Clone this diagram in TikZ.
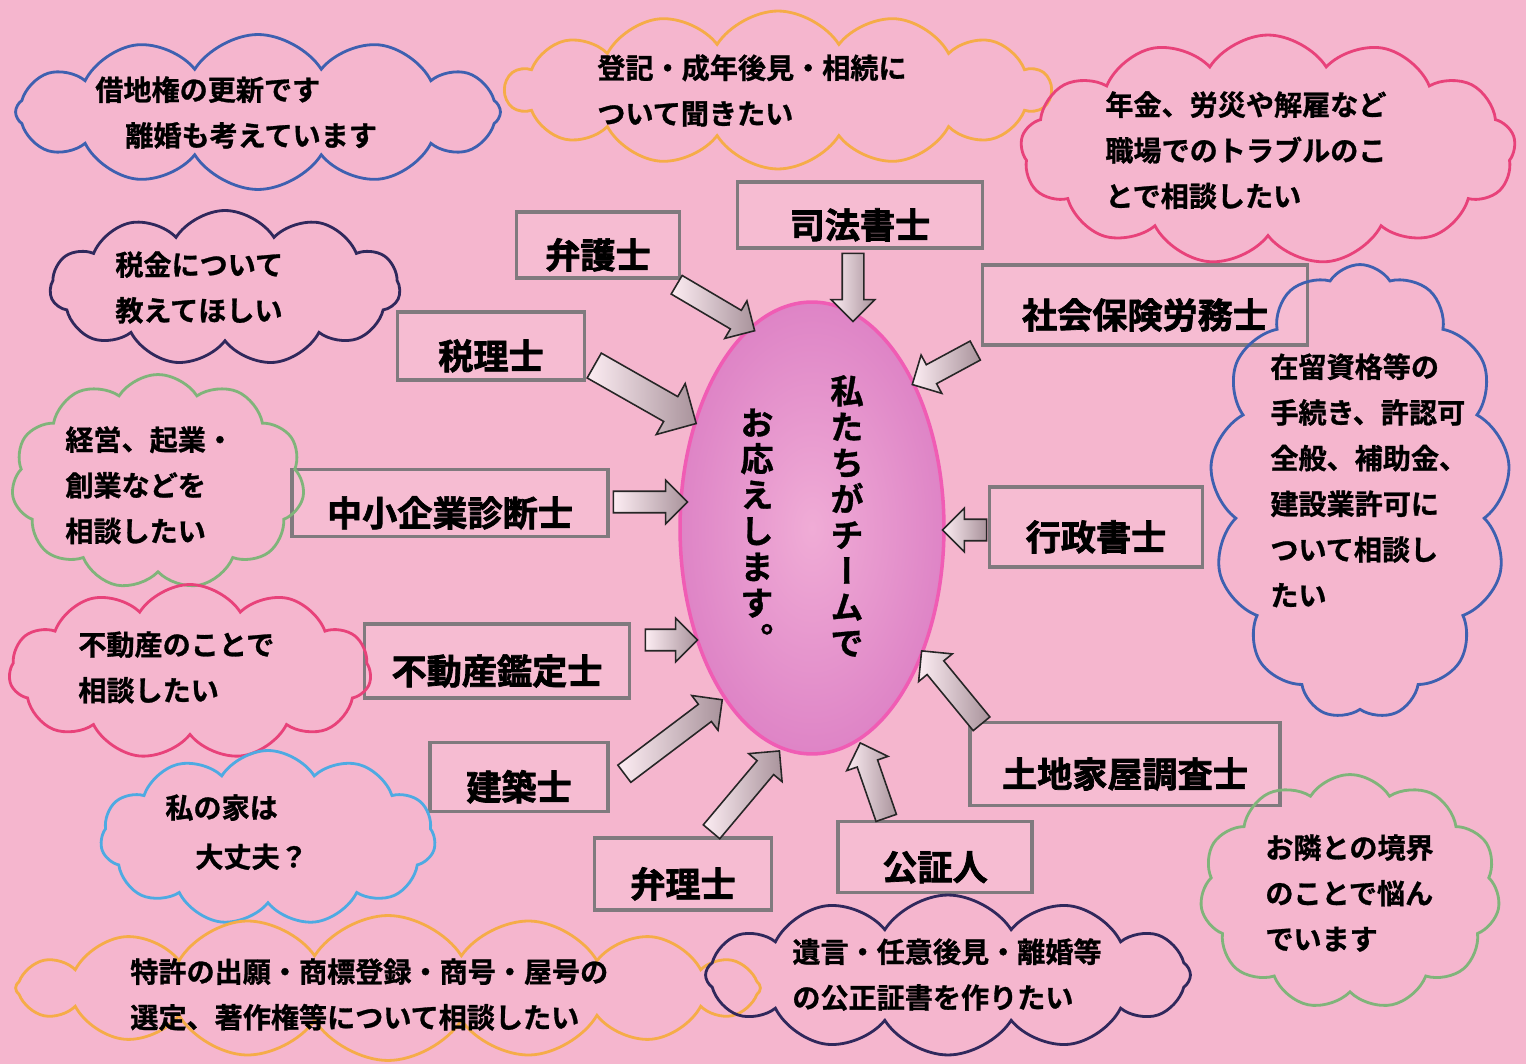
\documentclass[tikz,border=0pt]{standalone}
\usepackage{fontspec}
\setmainfont{Noto Sans CJK JP Bold}[FakeBold=1]
\newfontfamily\jobfont{Noto Sans CJK JP Bold}[FakeBold=2]
\newfontfamily\vjp{Noto Sans CJK JP Bold}[FakeBold=1, RawFeature={+vert}]
\usetikzlibrary{calc, positioning, shapes.geometric, shapes.symbols, shapes.arrows}
\definecolor{bgpink}{RGB}{245,182,206}
\definecolor{boxgray}{RGB}{128,122,126}
\definecolor{cblue}{RGB}{62,96,176}
\definecolor{corange}{RGB}{245,172,72}
\definecolor{cred}{RGB}{232,66,122}
\definecolor{cnavy}{RGB}{48,40,92}
\definecolor{cgreen}{RGB}{128,180,122}
\definecolor{clblue}{RGB}{78,170,226}
\definecolor{ovalrim}{RGB}{240,92,180}
\definecolor{ovalfill}{RGB}{222,132,198}
\definecolor{ovalcore}{RGB}{240,172,214}
\tikzset{
  % Profession box
  job/.style={draw=boxgray, line width=2.2pt, fill=bgpink!92!white,
    inner sep=0pt, text height=0.93cm, text depth=0pt,
    font=\jobfont\fontsize{20}{24}\selectfont},
  % Speech cloud
  worry/.style={cloud, cloud puffs=#1, cloud puff arc=115,
    cloud ignores aspect, draw, line width=1.6pt, inner sep=0pt},
  worry/.default=12,
  % Text in a cloud
  say/.style={anchor=north west, align=left, inner sep=0pt,
    font=\fontsize{16}{26}\selectfont},
  % Vertical text
  tate/.style={align=center, inner sep=0pt,
    font=\vjp\fontsize{19}{20.5}\selectfont},
  % Block arrow
  barrow/.style={single arrow, draw=black!85, line width=0.9pt,
    inner sep=0pt, text height=0.2cm, text depth=0.2cm,
    single arrow head extend=0.22cm,
    left color=white!75!bgpink, right color=gray!65!bgpink},
  bigbarrow/.style={barrow, text height=0.27cm, text depth=0.27cm,
    single arrow head extend=0.3cm},
}
% Block arrow from tail to head
\newcommand{\teamarrow}[4][]{%
  \path let \p1 = ($(#4)-(#3)$), \n1 = {atan2(\y1,\x1)},
    \n2 = {veclen(\x1,\y1)} in
    node[barrow, #1, rotate=\n1, minimum height=\n2] (#2)
    at ($(#3)!0.5!(#4)$) {};}

\begin{document}
\begin{tikzpicture}[x=0.02cm, y=-0.02cm]
  \fill[bgpink] (0,0) rectangle (1526,1064);
  \useasboundingbox (0,0) rectangle (1526,1064);

  % the team
  \node[ellipse, draw=ovalrim, line width=2pt, minimum width=5.28cm,
    minimum height=9.04cm, inner color=ovalcore,
    outer color=ovalfill] (team) at (812,528) {};
  \node[tate] (team-r) at (847,516) {私\\た\\ち\\が\\チ\\ー\\ム\\で};
  \node[tate] (team-l) at (757,530) {お\\応\\え\\し\\ま\\す\\。};

  % professions
  \node[job, minimum width=3.26cm, minimum height=1.32cm] (bengo) at (598,245) {弁護士};
  \node[job, minimum width=4.9cm, minimum height=1.32cm] (shiho) at (860,215) {司法書士};
  \node[job, minimum width=6.5cm, minimum height=1.6cm] (sharo) at (1145,305) {社会保険労務士};
  \node[job, minimum width=3.74cm, minimum height=1.36cm] (zeiri) at (491,346) {税理士};
  \node[job, minimum width=6.32cm, minimum height=1.34cm] (chusho) at (450,503) {中小企業診断士};
  \node[job, minimum width=4.26cm, minimum height=1.6cm] (gyosei) at (1096,527) {行政書士};
  \node[job, minimum width=5.3cm, minimum height=1.48cm] (fudosan) at (497,661) {不動産鑑定士};
  \node[job, minimum width=3.56cm, minimum height=1.38cm] (kenchiku) at (519,777) {建築士};
  \node[job, minimum width=6.2cm, minimum height=1.66cm] (tochi) at (1125,764) {土地家屋調査士};
  \node[job, minimum width=3.88cm, minimum height=1.42cm] (kosho) at (935,857) {公証人};
  \node[job, minimum width=3.54cm, minimum height=1.44cm] (benri) at (683,874) {弁理士};

  % arrow ends
  \coordinate (bengo-t) at (672,282);  \coordinate (bengo-h) at (750,328);
  \coordinate (shiho-t) at (853,248);  \coordinate (shiho-h) at (853,316);
  \coordinate (sharo-t) at (980,348);  \coordinate (sharo-h) at (917,382);
  \coordinate (zeiri-t) at (588,362);  \coordinate (zeiri-h) at (690,420);
  \coordinate (chusho-t) at (608,502); \coordinate (chusho-h) at (682,502);
  \coordinate (gyosei-t) at (992,530); \coordinate (gyosei-h) at (948,530);
  \coordinate (fudosan-t) at (640,640); \coordinate (fudosan-h) at (692,640);
  \coordinate (kenchiku-t) at (620,777); \coordinate (kenchiku-h) at (718,703);
  \coordinate (benri-t) at (708,836);  \coordinate (benri-h) at (776,755);
  \coordinate (kosho-t) at (888,823);  \coordinate (kosho-h) at (862,748);
  \coordinate (tochi-t) at (985,728);  \coordinate (tochi-h) at (925,655);

  \teamarrow{a-bengo}{bengo-t}{bengo-h}
  \teamarrow{a-shiho}{shiho-t}{shiho-h}
  \teamarrow{a-sharo}{sharo-t}{sharo-h}
  \teamarrow[bigbarrow]{a-zeiri}{zeiri-t}{zeiri-h}
  \teamarrow{a-chusho}{chusho-t}{chusho-h}
  \teamarrow{a-gyosei}{gyosei-t}{gyosei-h}
  \teamarrow{a-fudosan}{fudosan-t}{fudosan-h}
  \teamarrow{a-kenchiku}{kenchiku-t}{kenchiku-h}
  \teamarrow{a-benri}{benri-t}{benri-h}
  \teamarrow{a-kosho}{kosho-t}{kosho-h}
  \teamarrow{a-tochi}{tochi-t}{tochi-h}

  % clouds
  \node[worry=12, draw=cblue, minimum width=9.7cm, minimum height=3.1cm] (c-shakuchi) at (258,112) {};
  \node[worry=14, draw=corange, minimum width=10.9cm, minimum height=3.16cm] (c-toki) at (778,90) {};
  \node[worry=13, draw=cred, minimum width=9.9cm, minimum height=4.6cm] (c-nenkin) at (1268,150) {};
  \node[worry=11, draw=cnavy, minimum width=7cm, minimum height=3.1cm] (c-zeikin) at (225,288) {};
  \node[worry=11, draw=cgreen, minimum width=5.86cm, minimum height=4.3cm] (c-keiei) at (158,482) {};
  \node[worry=11, draw=cred, minimum width=7.24cm, minimum height=3.5cm] (c-fudosan) at (190,672) {};
  \node[worry=11, draw=clblue, minimum width=6.7cm, minimum height=3.5cm] (c-ie) at (268,838) {};
  \node[worry=16, draw=corange, minimum width=14.9cm, minimum height=2.9cm] (c-tokkyo) at (388,988) {};
  \node[worry=12, draw=cnavy, minimum width=9.7cm, minimum height=3.2cm] (c-yuigon) at (948,975) {};
  \node[worry=13, draw=cblue, minimum width=6cm, minimum height=9.1cm] (c-zairyu) at (1360,492) {};
  \node[worry=11, draw=cgreen, minimum width=6cm, minimum height=4.7cm] (c-tonari) at (1350,892) {};

  % what people ask
  \node[say] (q-shakuchi) at (95,76) {借地権の更新です\\\hspace*{0.6cm}離婚も考えています};
  \node[say] (q-toki) at (597,54) {登記・成年後見・相続に\\ついて聞きたい};
  \node[say] (q-nenkin) at (1105,91) {年金、労災や解雇など\\職場でのトラブルのこ\\とで相談したい};
  \node[say] (q-zeikin) at (115,251) {税金について\\教えてほしい};
  \node[say] (q-keiei) at (65,426) {経営、起業・\\創業などを\\相談したい};
  \node[say] (q-fudosan) at (78,631) {不動産のことで\\相談したい};
  \node[say, font=\fontsize{16}{28}\selectfont] (q-ie) at (165,794) {私の家は\\\hspace*{0.6cm}大丈夫？};
  \node[say] (q-tokkyo) at (130,958) {特許の出願・商標登録・商号・屋号の\\選定、著作権等について相談したい};
  \node[say] (q-yuigon) at (792,938) {遺言・任意後見・離婚等\\の公正証書を作りたい};
  \node[say] (q-zairyu) at (1270,353) {在留資格等の\\手続き、許認可\\全般、補助金、\\建設業許可に\\ついて相談し\\たい};
  \node[say] (q-tonari) at (1265,834) {お隣との境界\\のことで悩ん\\でいます};
\end{tikzpicture}
\end{document}
